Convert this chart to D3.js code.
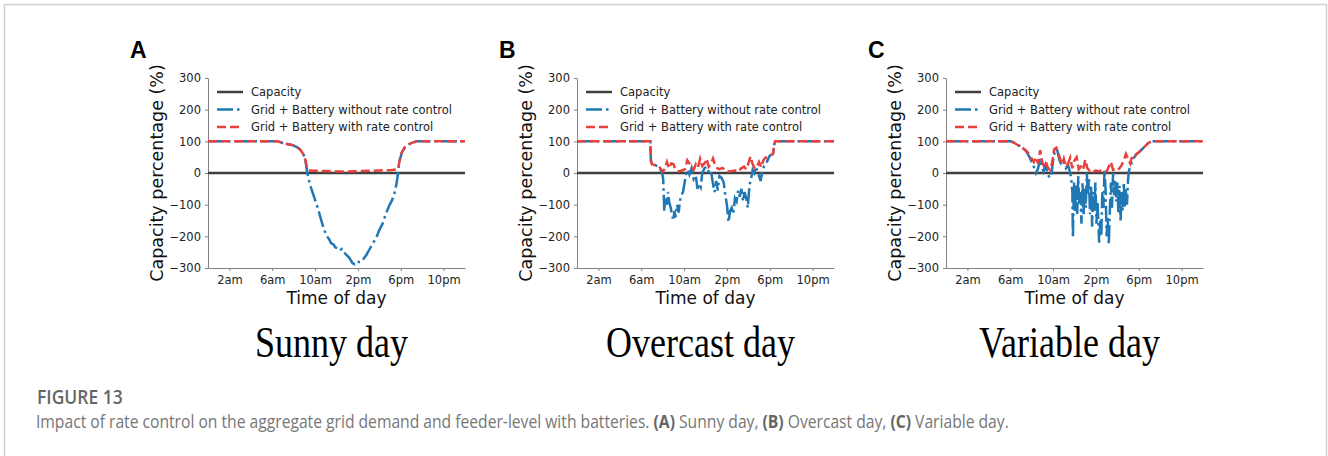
<!DOCTYPE html>
<html>
<head>
<meta charset="utf-8">
<script src="https://cdn.jsdelivr.net/npm/d3@7"></script>
<style>
  body { margin: 0; background: #fff; }
  svg { display: block; }
  .tick text { font-family: "DejaVu Sans", sans-serif; font-size: 11.5px; fill: #222; }
  .axis path, .axis line { stroke: #808080; }
</style>
</head>
<body>
<div id="main"></div>
<script>
const ctx = {
    SVG_W: 1328,
    SVG_H: 456,
    PLOT_W: 257,
    TOP: 78,
    BOTTOM: 268,
};

// axis ticks
const hourTicks = [2, 6, 10, 14, 18, 22];
const hourLabels = ["2am", "6am", "10am", "2pm", "6pm", "10pm"];
const pctTicks = [-300, -200, -100, 0, 100, 200, 300];
const legendLabels = ["Capacity", "Grid + Battery without rate control", "Grid + Battery with rate control"];
const panelLetters = ["A", "B", "C"];
const panelTitles = ["Sunny day", "Overcast day", "Variable day"];

// capacity line (%)
const capacity = [[0, 0], [24, 0]];

// [hour, capacity %] (sunny)
const blueA = [[0,100],[6.5,100],[6.8,97],[7.1,93],[7.5,91],[7.9,88],[8.3,82],[8.6,74],[8.9,60],[9.1,40],[9.25,5],[9.4,-20],[9.6,-45],[9.9,-75],[10.2,-105],[10.5,-140],[10.8,-175],[11.1,-200],[11.3,-208],[11.5,-222],[11.7,-225],[11.9,-235],[12.1,-238],[12.3,-245],[12.5,-240],[12.7,-250],[12.9,-258],[13.2,-268],[13.5,-285],[13.7,-288],[13.9,-280],[14.2,-282],[14.5,-272],[14.8,-258],[15.1,-240],[15.4,-222],[15.7,-205],[16.0,-180],[16.3,-160],[16.6,-130],[16.9,-105],[17.2,-85],[17.4,-65],[17.6,-35],[17.75,0],[17.9,40],[18.1,65],[18.4,82],[18.7,90],[19.1,96],[19.5,100],[24,100]];
const redA = [[0,100],[6.5,100],[6.8,97],[7.1,93],[7.5,91],[7.9,88],[8.3,82],[8.6,74],[8.9,60],[9.1,40],[9.25,15],[9.4,8],[10,7],[11,6],[12,5],[13,5],[14,6],[15,7],[16,8],[17,9],[17.6,11],[17.75,14],[17.9,40],[18.1,65],[18.4,82],[18.7,90],[19.1,96],[19.5,100],[24,100]];

// panel B (overcast)
const blueB = [[0,100],[6.85,100],[6.9,40],[7.0,28],[7.3,25],[7.6,20],[7.8,10],[7.95,0],[8.05,-20],[8.15,-120],[8.25,-80],[8.4,-100],[8.5,-60],[8.6,-90],[8.75,-110],[8.9,-135],[9.0,-150],[9.1,-120],[9.2,-140],[9.35,-100],[9.5,-125],[9.6,-90],[9.75,-70],[9.9,-60],[10.05,-30],[10.2,0],[10.35,10],[10.5,-5],[10.7,15],[10.9,-20],[11.1,-10],[11.25,-50],[11.4,-35],[11.55,-45],[11.7,0],[11.9,15],[12.1,20],[12.3,5],[12.5,10],[12.7,-35],[12.85,-60],[13.0,-25],[13.15,-55],[13.3,-10],[13.5,-15],[13.7,-30],[13.85,-70],[14.0,-100],[14.15,-155],[14.3,-120],[14.45,-110],[14.6,-130],[14.75,-80],[14.9,-90],[15.05,-55],[15.2,-75],[15.35,-50],[15.5,-90],[15.65,-60],[15.8,-80],[15.95,-110],[16.1,-40],[16.25,-20],[16.4,10],[16.55,0],[16.7,20],[16.85,5],[17.0,-10],[17.15,-25],[17.3,5],[17.45,20],[17.6,25],[17.8,40],[18.0,55],[18.3,60],[18.45,95],[18.5,100],[24,100]];
const redB = [[0,100],[6.85,100],[6.9,40],[7.0,28],[7.3,25],[7.6,22],[7.8,14],[8.0,5],[8.2,12],[8.4,35],[8.6,15],[8.8,30],[9.0,28],[9.2,10],[9.5,5],[9.8,8],[10.1,12],[10.3,40],[10.5,30],[10.7,22],[10.9,10],[11.1,28],[11.3,18],[11.5,45],[11.7,22],[11.9,30],[12.1,45],[12.3,20],[12.5,28],[12.7,46],[12.9,25],[13.1,15],[13.3,12],[13.6,16],[13.9,6],[14.2,5],[14.5,6],[14.8,8],[15.1,5],[15.3,14],[15.6,20],[15.8,12],[16.0,30],[16.2,52],[16.4,28],[16.6,15],[16.8,20],[17.0,35],[17.2,18],[17.4,40],[17.6,48],[17.8,52],[18.0,55],[18.3,60],[18.45,95],[18.5,100],[24,100]];

// panel C (variable)
const blueC = [[0,100],[6.0,100],[6.3,97],[6.6,90],[6.9,85],[7.2,78],[7.5,68],[7.8,50],[8.0,35],[8.2,20],[8.4,0],[8.6,15],[8.8,45],[8.95,20],[9.1,5],[9.3,25],[9.5,-5],[9.7,-15],[9.85,-5],[10.0,40],[10.2,75],[10.4,70],[10.6,40],[10.8,25],[11.0,35],[11.2,15],[11.4,25],[11.6,0],[11.7,-20],[11.8,-60],[11.85,-205],[11.95,-30],[12.05,-120],[12.15,-40],[12.25,-130],[12.35,-10],[12.45,-100],[12.55,-60],[12.65,-160],[12.75,-30],[12.85,-130],[12.95,-50],[13.05,-110],[13.15,0],[13.25,-70],[13.35,-20],[13.45,-130],[13.55,-40],[13.65,-170],[13.75,-60],[13.85,-120],[13.95,-30],[14.05,-160],[14.15,-90],[14.3,-220],[14.4,-150],[14.5,-200],[14.6,-60],[14.7,-110],[14.8,10],[14.9,-50],[15.0,-200],[15.1,-140],[15.2,-225],[15.3,-120],[15.4,-30],[15.5,-110],[15.6,0],[15.7,-70],[15.8,-20],[15.9,-90],[16.0,-30],[16.1,-130],[16.2,-40],[16.3,-150],[16.4,-60],[16.5,-120],[16.6,-30],[16.7,-110],[16.8,-50],[16.9,-100],[17.0,-20],[17.1,10],[17.25,20],[17.4,45],[17.6,50],[17.8,60],[18.0,65],[18.3,75],[18.6,85],[18.9,95],[19.2,100],[24,100]];
const redC = [[0,100],[6.0,100],[6.3,97],[6.6,90],[6.9,85],[7.2,78],[7.5,70],[7.8,58],[8.0,45],[8.2,35],[8.4,50],[8.6,30],[8.8,72],[8.95,40],[9.1,25],[9.3,38],[9.5,18],[9.7,10],[9.9,30],[10.1,75],[10.3,80],[10.5,62],[10.7,40],[10.85,28],[11.0,45],[11.2,20],[11.4,30],[11.6,48],[11.8,15],[12.0,40],[12.2,50],[12.4,12],[12.6,20],[12.8,10],[13.0,42],[13.2,15],[13.4,8],[13.6,12],[13.8,5],[14.0,8],[14.3,5],[14.6,10],[14.8,6],[15.0,5],[15.2,20],[15.4,35],[15.6,10],[15.8,12],[16.0,8],[16.2,15],[16.4,25],[16.6,40],[16.8,60],[17.0,45],[17.2,30],[17.4,55],[17.6,52],[17.8,60],[18.0,65],[18.3,75],[18.6,85],[18.9,95],[19.2,100],[24,100]];

const caption = "Impact of rate control on the aggregate grid demand and feeder-level with batteries.";

const COLORS = { cap: "#3f3f3f", blue: "#1f77b4", red: "#e8403c" };
const STYLES = [
    { color: COLORS.cap, dash: null },
    { color: COLORS.blue, dash: "16,4,2.5,4" },
    { color: COLORS.red, dash: "9,4" },
];

function drawPanel(svgEl, left, i, blue, red) {
    let g = svgEl.append("g").attr("transform", "translate(" + left + ",0)");
    let x = d3.scaleLinear().domain([0, 24]).range([0, ctx.PLOT_W]);
    let y = d3.scaleLinear().domain([-300, 300]).range([ctx.BOTTOM, ctx.TOP]);

    // axes: only left and bottom spines
    g.append("g")
        .attr("class", "axis")
        .call(d3.axisLeft(y).tickValues(pctTicks).tickSize(3).tickSizeOuter(0).tickPadding(4));
    g.append("g")
        .attr("class", "axis")
        .attr("transform", "translate(0," + ctx.BOTTOM + ")")
        .call(d3.axisBottom(x).tickValues(hourTicks).tickSize(3).tickSizeOuter(0).tickPadding(5)
            .tickFormat((d, k) => hourLabels[k]));

    let line = d3.line().x(d => x(d[0])).y(d => y(d[1]));
    [capacity, blue, red].forEach(function (series, k) {
        g.append("path")
            .datum(series)
            .attr("d", line)
            .attr("fill", "none")
            .attr("stroke", STYLES[k].color)
            .attr("stroke-width", 2.5)
            .attr("stroke-dasharray", STYLES[k].dash);
    });

    // legend
    let lg = g.append("g").attr("transform", "translate(9," + (ctx.TOP + 14) + ")");
    legendLabels.forEach(function (lab, k) {
        let row = lg.append("g").attr("transform", "translate(0," + (k * 17.5) + ")");
        row.append("line")
            .attr("x1", 0).attr("x2", 26)
            .attr("stroke", STYLES[k].color)
            .attr("stroke-width", 2.5)
            .attr("stroke-dasharray", STYLES[k].dash);
        row.append("text")
            .attr("x", 34).attr("y", 4)
            .style("font-family", "DejaVu Sans, sans-serif")
            .style("font-size", "11.5px")
            .attr("fill", "#222")
            .text(lab);
    });

    // axis titles
    g.append("text")
        .attr("transform", "translate(-51," + ((ctx.TOP + ctx.BOTTOM) / 2) + ") rotate(-90)")
        .attr("text-anchor", "middle")
        .attr("dy", "0.35em")
        .style("font-family", "DejaVu Sans, sans-serif")
        .style("font-size", "17.5px")
        .attr("fill", "#111")
        .text("Capacity percentage (%)");
    g.append("text")
        .attr("x", ctx.PLOT_W / 2).attr("y", 304)
        .attr("text-anchor", "middle")
        .style("font-family", "DejaVu Sans, sans-serif")
        .style("font-size", "17px")
        .attr("fill", "#111")
        .text("Time of day");

    // panel letter
    g.append("text")
        .attr("x", -78).attr("y", 58)
        .style("font-family", "Liberation Sans, Arial, sans-serif")
        .style("font-weight", "bold")
        .style("font-size", "23px")
        .attr("fill", "#000")
        .text(panelLetters[i]);

    // panel title (serif, slightly tall)
    g.append("text")
        .attr("transform", "translate(" + (ctx.PLOT_W / 2 - 5) + ",357) scale(1,1.25)")
        .attr("text-anchor", "middle")
        .style("font-family", "Liberation Serif, Times New Roman, serif")
        .style("font-size", "36px")
        .attr("fill", "#000")
        .text(panelTitles[i]);
}

function createViz() {
    let svgEl = d3.select("#main").append("svg")
        .attr("width", ctx.SVG_W)
        .attr("height", ctx.SVG_H);

    // frame
    svgEl.append("rect")
        .attr("x", 4.5).attr("y", 4.5)
        .attr("width", 1322).attr("height", 520)
        .attr("fill", "none")
        .attr("stroke", "#d0d0d0")
        .attr("stroke-width", 1.5);

    drawPanel(svgEl, 208, 0, blueA, redA);
    drawPanel(svgEl, 577, 1, blueB, redB);
    drawPanel(svgEl, 946, 2, blueC, redC);

    // figure caption (narrow-looking sans, so squeeze horizontally)
    svgEl.append("text")
        .attr("transform", "translate(37,404) scale(0.92,1)")
        .style("font-family", "Open Sans, sans-serif")
        .style("font-weight", "600")
        .style("font-size", "19px")
        .attr("fill", "#666")
        .text("FIGURE 13");
    let cap = svgEl.append("text")
        .attr("transform", "translate(36,428) scale(0.87,1)")
        .style("font-family", "Open Sans, sans-serif")
        .style("font-size", "18px")
        .attr("fill", "#777");
    cap.append("tspan").text(caption + " ");
    [["(A)", " Sunny day, "], ["(B)", " Overcast day, "], ["(C)", " Variable day."]].forEach(function (p) {
        cap.append("tspan").style("font-weight", "700").attr("fill", "#666").text(p[0]);
        cap.append("tspan").text(p[1]);
    });
}

createViz();
</script>
</body>
</html>
